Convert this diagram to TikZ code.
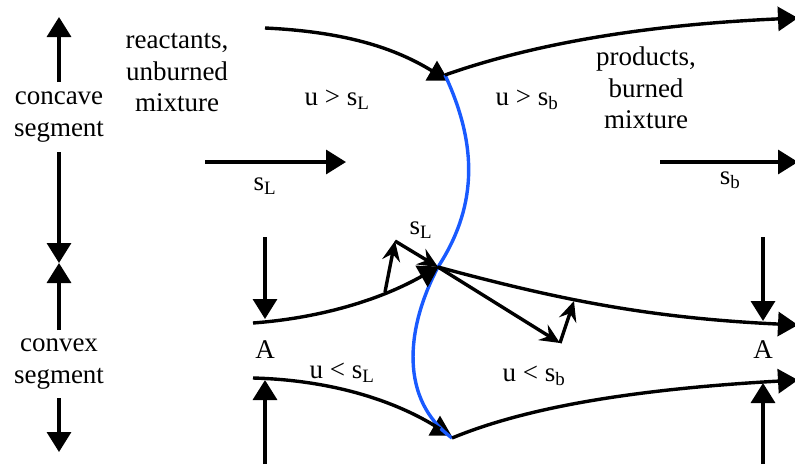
\documentclass[tikz,border=0pt]{standalone}
\usepackage{fontspec}
\setmainfont{Liberation Serif}
\usetikzlibrary{arrows.meta,shapes.geometric}
\definecolor{flameblue}{RGB}{25,90,255}

\begin{document}
\begin{tikzpicture}[x=1pt,y=-1pt,
  lbl/.style={align=center,font=\fontsize{27}{31.5}\selectfont,inner sep=0pt},
  arr/.style={line width=3.4pt,-{Triangle[length=20pt,width=24pt]}},
  vel/.style={line width=3.4pt,-{Stealth[length=20pt,width=18pt,inset=7pt]}},
  flame/.style={line width=3.4pt,flameblue},
  tri/.style={isosceles triangle,isosceles triangle stretches,shape border rotate=90,
              fill,inner sep=0pt,minimum width=23pt,minimum height=20pt}
]
\useasboundingbox (0,0) rectangle (795,464);

% labels
\node[lbl] (concave) at (59,117) {concave\\segment};
\node[lbl] (convex) at (59,364) {convex\\segment};
\node[lbl] (reactants) at (177,73) {reactants,\\unburned\\mixture};
\node[lbl] (products) at (646,88) {products,\\burned\\mixture};
\node[lbl] (uL1) at (337,100) {u > s\textsubscript{L}};
\node[lbl] (ub1) at (527,100) {u > s\textsubscript{b}};
\node[lbl] (uL2) at (342,373) {u < s\textsubscript{L}};
\node[lbl] (ub2) at (534,376) {u < s\textsubscript{b}};
\node[lbl] (sL) at (265,186) {s\textsubscript{L}};
\node[lbl] (sb) at (730,180) {s\textsubscript{b}};
\node[lbl] (sLc) at (421,230) {s\textsubscript{L}};
\node[lbl] (A1) at (265,350) {A};
\node[lbl] (A2) at (763,350) {A};

% segment extents
\coordinate (c1) at (59,82);  \coordinate (c1t) at (59,17);
\coordinate (c2) at (59,152); \coordinate (c2t) at (59,263);
\coordinate (c3) at (59,330); \coordinate (c3t) at (59,263);
\coordinate (c4) at (59,398); \coordinate (c4t) at (59,452);
\draw[arr] (c1) -- (c1t);
\draw[arr] (c2) -- (c2t);
\draw[arr] (c3) -- (c3t);
\draw[arr] (c4) -- (c4t);

% flow speeds
\coordinate (fL) at (205,162); \coordinate (fLt) at (346,162);
\coordinate (fb) at (660,162); \coordinate (fbt) at (798,162);
\draw[arr] (fL) -- (fLt);
\draw[arr] (fb) -- (fbt);

% flame front
\node[tri] (top) at (437,74) {};
\node[tri] (bot) at (440,429) {};
\coordinate (f0) at (445,75);
\coordinate (x) at (438,267);
\coordinate (f1) at (452,438);
\draw[flame] (f0) .. controls (480,150) and (475,210) .. (x)
  .. controls (405,330) and (400,400) .. (f1);

% streamlines
\coordinate (s1) at (265,28);  \coordinate (s1e) at (798,18);
\coordinate (s2) at (253,323); \coordinate (s2e) at (798,325);
\coordinate (s3) at (253,378); \coordinate (s3e) at (798,380);
\draw[line width=3.4pt] (s1) .. controls (350,32) and (400,50) .. (top.center);
\draw[arr] (f0) .. controls (530,45) and (640,25) .. (s1e);
\draw[arr,shorten >=-1pt] (s2) .. controls (320,318) and (380,300) .. (x);
\draw[arr] (x) .. controls (560,300) and (650,318) .. (s2e);
\draw[line width=3.4pt] (s3) .. controls (330,380) and (395,400) .. (bot.center);
\draw[arr] (f1) .. controls (520,410) and (620,390) .. (s3e);

% area marks
\coordinate (a1) at (265,237); \coordinate (a1t) at (265,319);
\coordinate (a2) at (265,464); \coordinate (a2t) at (265,380);
\coordinate (a3) at (763,237); \coordinate (a3t) at (763,321);
\coordinate (a4) at (763,464); \coordinate (a4t) at (763,383);
\draw[arr] (a1) -- (a1t);
\draw[arr] (a2) -- (a2t);
\draw[arr] (a3) -- (a3t);
\draw[arr] (a4) -- (a4t);

% velocity triangles
\coordinate (v0) at (385,292);
\coordinate (v1) at (395,241);
\coordinate (v2) at (560,343);
\coordinate (v3) at (574,301);
\draw[vel] (v0) -- (v1);
\draw[vel] (v1) -- (x);
\draw[vel] (x) -- (v2);
\draw[vel] (v2) -- (v3);
\end{tikzpicture}
\end{document}
